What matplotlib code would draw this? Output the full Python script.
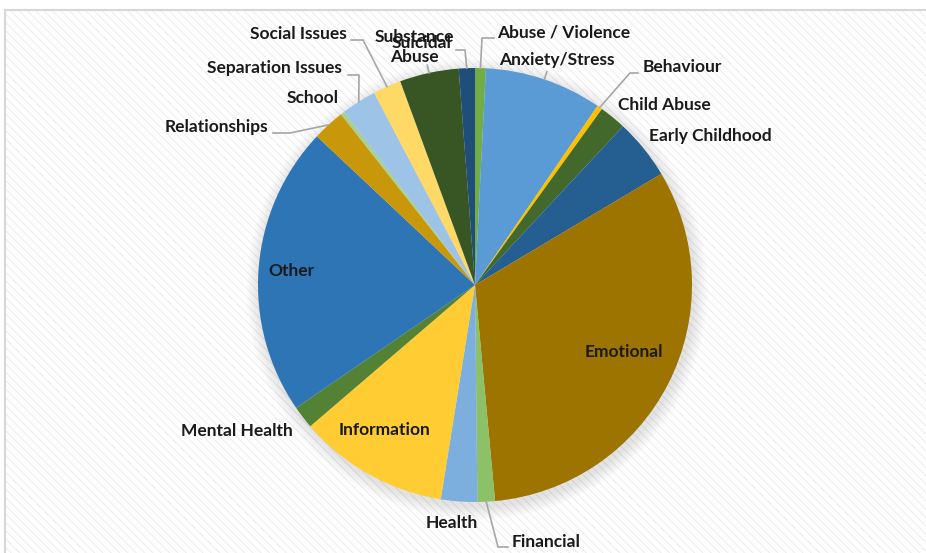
import matplotlib.pyplot as plt
from matplotlib.patches import Rectangle, Circle
import numpy as np

W, H = 926, 553

categories = ['Abuse / Violence', 'Anxiety/Stress', 'Behaviour', 'Child Abuse',
              'Early Childhood', 'Emotional', 'Financial', 'Health', 'Information',
              'Mental Health', 'Other', 'Relationships', 'School', 'Separation Issues',
              'Social Issues', 'Substance\nAbuse', 'Suicidal']
shares = [0.8, 8.75, 0.4, 2.0, 4.5, 32.1, 1.3, 2.7, 11.2, 1.7, 21.6, 2.4, 0.3, 2.6,
          2.1, 4.4, 1.2]
colors = ['#70ad47', '#5b9bd5', '#ffc000', '#43682b', '#255e91', '#9e7400',
          '#8cc168', '#7cafdd', '#ffcd33', '#548235', '#2e75b6', '#c9980a',
          '#a9d18e', '#9dc3e6', '#ffd966', '#375623', '#1f4e79']

# label layout in pixels (x, y from top); leader = elbow points before the wedge
layout = {
    'Abuse / Violence': ((564, 33), [(494, 38), (482, 38)]),
    'Anxiety/Stress': ((557, 60), 'tick'),
    'Behaviour': ((682, 67), [(638, 73), (630, 73)]),
    'Child Abuse': ((664, 105), None),
    'Early Childhood': ((710, 136), None),
    'Emotional': ((624, 352), None),
    'Financial': ((546, 542), [(508, 547), (498, 547)]),
    'Health': ((452, 523), None),
    'Information': ((384, 430), None),
    'Mental Health': ((237, 431), None),
    'Other': ((291, 271), None),
    'Relationships': ((216, 127), [(273, 133), (290, 133)]),
    'School': ((313, 98), None),
    'Separation Issues': ((274, 68), [(348, 75), (359, 75)]),
    'Social Issues': ((298, 34), [(351, 40), (363, 40)]),
    'Substance\nAbuse': ((414, 47), 'tick'),
    'Suicidal': ((422, 43), [(456, 50), (465, 50)]),
}

cx, cy, R = 475, 285, 217

plt.rcParams['font.family'] = ['Lato', 'DejaVu Sans']
plt.rcParams['hatch.linewidth'] = 0.7

fig = plt.figure(figsize=(W / 100, H / 100), dpi=100)
ax = fig.add_axes([0, 0, 1, 1])

def py(y):
    return H - y

# striped chart area with a thin border
ax.add_patch(Rectangle((5, 0), W, H - 10, facecolor='white', edgecolor='#ededed',
                       hatch='\\\\\\\\', linewidth=0, zorder=0))
ax.add_patch(Rectangle((5, -5), W, H - 10 + 5, facecolor='none', edgecolor='#d6d6d6',
                       linewidth=1.5, zorder=1))

# soft shadow under the pie
for i in range(14):
    ax.add_patch(Circle((cx + 2, py(cy) - 4), R + 1 + i, facecolor='black',
                        edgecolor='none', alpha=0.007, zorder=1))

wedges, _ = ax.pie(shares, colors=colors, startangle=90, counterclock=False,
                   center=(cx, py(cy)), radius=R, wedgeprops=dict(linewidth=0),
                   frame=True)
for w in wedges:
    w.set_zorder(2)

for w, name in zip(wedges, categories):
    (tx, ty), leader = layout[name]
    ax.text(tx, py(ty), name, ha='center', va='center', fontsize=12.5,
            fontweight='bold', color='#1a1a1a', linespacing=1.35, zorder=4)
    if leader is None:
        continue
    mid = np.deg2rad((w.theta1 + w.theta2) / 2)
    ax_pt = (cx + R * np.cos(mid), py(cy) + R * np.sin(mid))
    if leader == 'tick':
        out = (cx + (R + 8) * np.cos(mid), py(cy) + (R + 8) * np.sin(mid))
        pts = [out, ax_pt]
    else:
        pts = [(x, py(y)) for x, y in leader] + [ax_pt]
    xs, ys = zip(*pts)
    ax.plot(xs, ys, color='#a6a6a6', linewidth=1.2, zorder=3)

ax.set_xlim(0, W)
ax.set_ylim(0, H)
ax.set_aspect('auto')
ax.axis('off')

fig.savefig('out.png', dpi=100, facecolor='white')
